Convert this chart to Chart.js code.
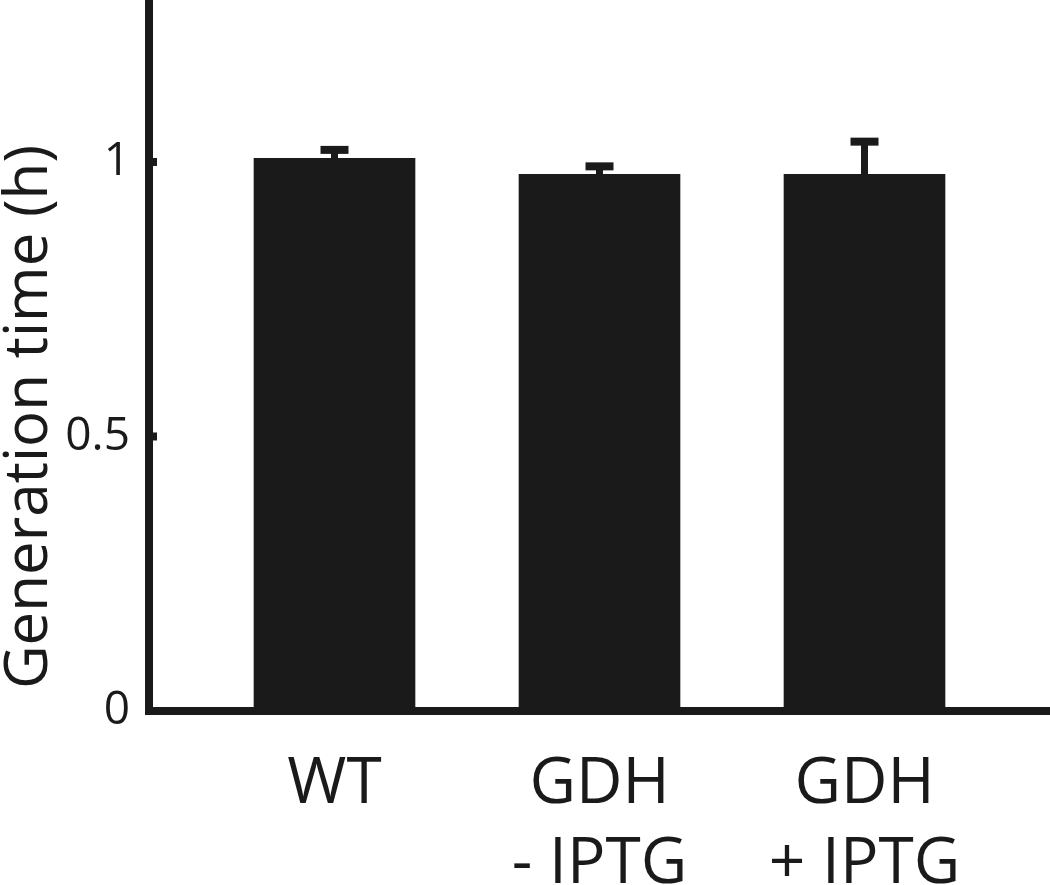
<!DOCTYPE html>
<html>
<head>
<meta charset="utf-8">
<script src="https://cdn.jsdelivr.net/npm/chart.js@4"></script>
<style>
  html, body { margin: 0; padding: 0; background: #fff; }
</style>
</head>
<body>
<canvas id="chart" width="1050" height="885"></canvas>
<script>
// data
const categories = [['WT'], ['GDH', '- IPTG'], ['GDH', '+ IPTG']];
const genTime = [1.007, 0.978, 0.978];
const genErr = [0.015, 0.014, 0.059];
const yTicks = [0, 0.5, 1];
const yTickLabels = ['0', '0.5', '1'];
const yTitle = 'Generation time (h)';

const ink = '#1a1a1a';
const fontFamily = '"Open Sans", "Noto Sans", sans-serif';

// error bars + inward y ticks + y title
const extras = {
  id: 'extras',
  afterDatasetsDraw(chart) {
    const {ctx, scales: {x, y}, chartArea} = chart;
    ctx.save();
    ctx.strokeStyle = ink;
    ctx.lineCap = 'butt';
    genTime.forEach((v, i) => {
      const px = x.getPixelForValue(i + 1);
      const top = y.getPixelForValue(v + genErr[i]);
      const base = y.getPixelForValue(v);
      ctx.lineWidth = 7;
      ctx.beginPath();
      ctx.moveTo(px, base + 1);
      ctx.lineTo(px, top);
      ctx.stroke();
      ctx.lineWidth = 8;
      ctx.beginPath();
      ctx.moveTo(px - 14, top);
      ctx.lineTo(px + 14, top);
      ctx.stroke();
    });
    // small ticks pointing into the plot
    ctx.lineWidth = 8;
    yTicks.forEach(t => {
      const py = y.getPixelForValue(t);
      ctx.beginPath();
      ctx.moveTo(chartArea.left, py);
      ctx.lineTo(chartArea.left + 8, py);
      ctx.stroke();
    });
    ctx.restore();
  },
  afterDraw(chart) {
    const ctx = chart.ctx;
    ctx.save();
    ctx.translate(47, 417);
    ctx.rotate(-Math.PI / 2);
    ctx.fillStyle = ink;
    ctx.font = '60px ' + fontFamily;
    ctx.textAlign = 'center';
    ctx.textBaseline = 'alphabetic';
    ctx.fillText(yTitle, 0, 0);
    ctx.restore();
  }
};

new Chart(document.getElementById('chart'), {
  type: 'bar',
  data: {
    datasets: [{
      data: genTime.map((v, i) => ({x: i + 1, y: v})),
      backgroundColor: ink,
      borderWidth: 0,
      categoryPercentage: 1,
      barPercentage: 0.61
    }]
  },
  options: {
    responsive: false,
    animation: false,
    layout: {padding: 0},
    plugins: {legend: {display: false}, tooltip: {enabled: false}},
    scales: {
      x: {
        type: 'linear',
        offset: false,
        min: 0.3,
        max: 3.7,
        afterBuildTicks: s => { s.ticks = categories.map((c, i) => ({value: i + 1})); },
        afterFit: s => { s.height = 174; s.paddingLeft = 0; s.paddingRight = 0; },
        grid: {display: false},
        border: {display: true, width: 8, color: ink},
        ticks: {
          callback: (v, i) => categories[i],
          font: {family: fontFamily, size: 64, lineHeight: 1.25},
          color: ink,
          padding: 26,
          maxRotation: 0,
          autoSkip: false
        }
      },
      y: {
        min: 0,
        max: 1.295,
        afterBuildTicks: s => { s.ticks = yTicks.map(v => ({value: v})); },
        afterFit: s => { s.width = 149; s.paddingTop = 0; s.paddingBottom = 0; },
        grid: {display: false},
        border: {display: true, width: 8, color: ink},
        ticks: {
          callback: (v, i) => yTickLabels[i],
          font: {family: fontFamily, size: 46},
          color: ink,
          padding: 11
        }
      }
    }
  },
  plugins: [extras]
});
</script>
</body>
</html>
